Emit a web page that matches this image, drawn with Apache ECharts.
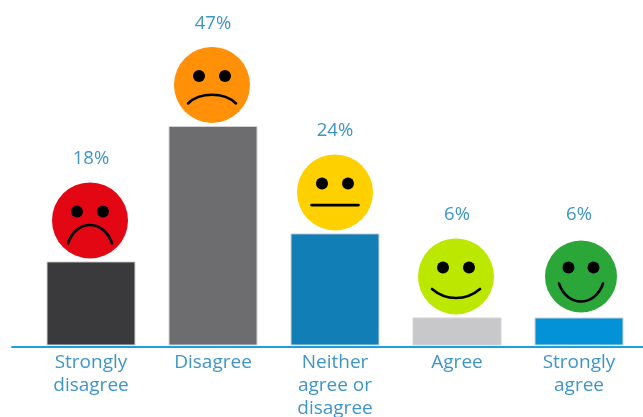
<!DOCTYPE html>
<html>
<head>
<meta charset="utf-8">
<style>html,body{margin:0;padding:0;background:#fff}#chart{width:643px;height:417px}</style>
<script src="https://cdn.jsdelivr.net/npm/echarts@6/dist/echarts.min.js"></script>
</head>
<body>
<div id="chart"></div>
<script>
const categories = ['Strongly\ndisagree', 'Disagree', 'Neither\nagree or\ndisagree', 'Agree', 'Strongly\nagree'];
const shares = [18, 47, 24, 6, 6];
const barColors = ['#3a3a3c', '#6d6d6f', '#117fb5', '#c8c8ca', '#0391d8'];
const faceColors = ['#e30613', '#ff9008', '#ffd000', '#bce800', '#2ba638'];

// Face geometry, relative to each face centre: eye spread and mouth curve.
const faces = [
  { dx: -1, r: 38, eye: 13,   mouth: [-22, 23, -14, -1.5, 14, -1.5] },
  { dx: -1, r: 38, eye: 13,   mouth: [-24, 18.5, -12, 7, 12, 7] },
  { dx: 0,  r: 38, eye: 13,   mouth: [-23.5, 12.7, -8, 12.7, 8, 12.7] },
  { dx: -1, r: 38, eye: 13,   mouth: [-24, 12.5, -10, 24.5, 10, 24.5] },
  { dx: 2,  r: 36, eye: 12.5, mouth: [-22, 7, -14, 31, 14, 31] }
];

const FACE_LIFT = 41;
const TEXT_COLOR = '#3f95c6';
const FONT = '"Open Sans", sans-serif';

function renderFace(params, api) {
  const i = api.value(0);
  const top = api.coord([i, api.value(1)]);
  const cx = top[0] + faces[i].dx;
  const cy = top[1] - FACE_LIFT;
  const f = faces[i];
  const m = f.mouth;
  return {
    type: 'group',
    children: [
      { type: 'circle', shape: { cx, cy, r: f.r }, style: { fill: faceColors[i] } },
      { type: 'circle', shape: { cx: cx - f.eye, cy: cy - 9, r: 6 }, style: { fill: '#000' } },
      { type: 'circle', shape: { cx: cx + f.eye, cy: cy - 9, r: 6 }, style: { fill: '#000' } },
      {
        type: 'bezierCurve',
        shape: {
          x1: cx + m[0], y1: cy + m[1],
          cpx1: cx + m[2], cpy1: cy + m[3],
          cpx2: cx + m[4], cpy2: cy + m[5],
          x2: cx - m[0], y2: cy + m[1]
        },
        style: { stroke: '#000', fill: null, lineWidth: 2.6, lineCap: 'round' }
      }
    ]
  };
}

const chart = echarts.init(document.getElementById('chart'), null, { renderer: 'canvas' });
chart.setOption({
  animation: false,
  backgroundColor: '#fff',
  grid: [
    { left: 30, width: 610, top: 18.5, height: 327, outerBoundsMode: 'none' },
    { left: 12, right: 0, top: 18.5, height: 328, outerBoundsMode: 'none' }
  ],
  xAxis: [
    {
      type: 'category',
      data: categories,
      gridIndex: 0,
      axisLine: { show: false },
      axisTick: { show: false },
      axisLabel: {
        interval: 0,
        margin: 6,
        color: TEXT_COLOR,
        fontFamily: FONT,
        fontSize: 19,
        lineHeight: 23
      }
    },
    // Full-width rule under the bars
    {
      type: 'value',
      gridIndex: 1,
      min: 0,
      max: 1,
      axisLine: { show: true, lineStyle: { color: '#1ea0dc', width: 2 } },
      axisTick: { show: false },
      axisLabel: { show: false },
      splitLine: { show: false }
    }
  ],
  yAxis: [
    { type: 'value', min: 0, max: 70, gridIndex: 0, show: false },
    { type: 'value', min: 0, max: 1, gridIndex: 1, show: false }
  ],
  series: [
    {
      type: 'bar',
      xAxisIndex: 0,
      yAxisIndex: 0,
      barWidth: 89,
      data: shares.map((v, i) => ({
        value: v,
        itemStyle: { color: barColors[i], borderColor: '#d4d4d6', borderWidth: 1 }
      })),
      label: {
        show: true,
        position: 'top',
        distance: 93,
        formatter: '{c}%',
        color: TEXT_COLOR,
        fontFamily: FONT,
        fontSize: 18.5
      }
    },
    {
      type: 'custom',
      xAxisIndex: 0,
      yAxisIndex: 0,
      renderItem: renderFace,
      data: shares.map((v, i) => [i, v]),
      z: 3
    }
  ]
});
</script>
</body>
</html>
